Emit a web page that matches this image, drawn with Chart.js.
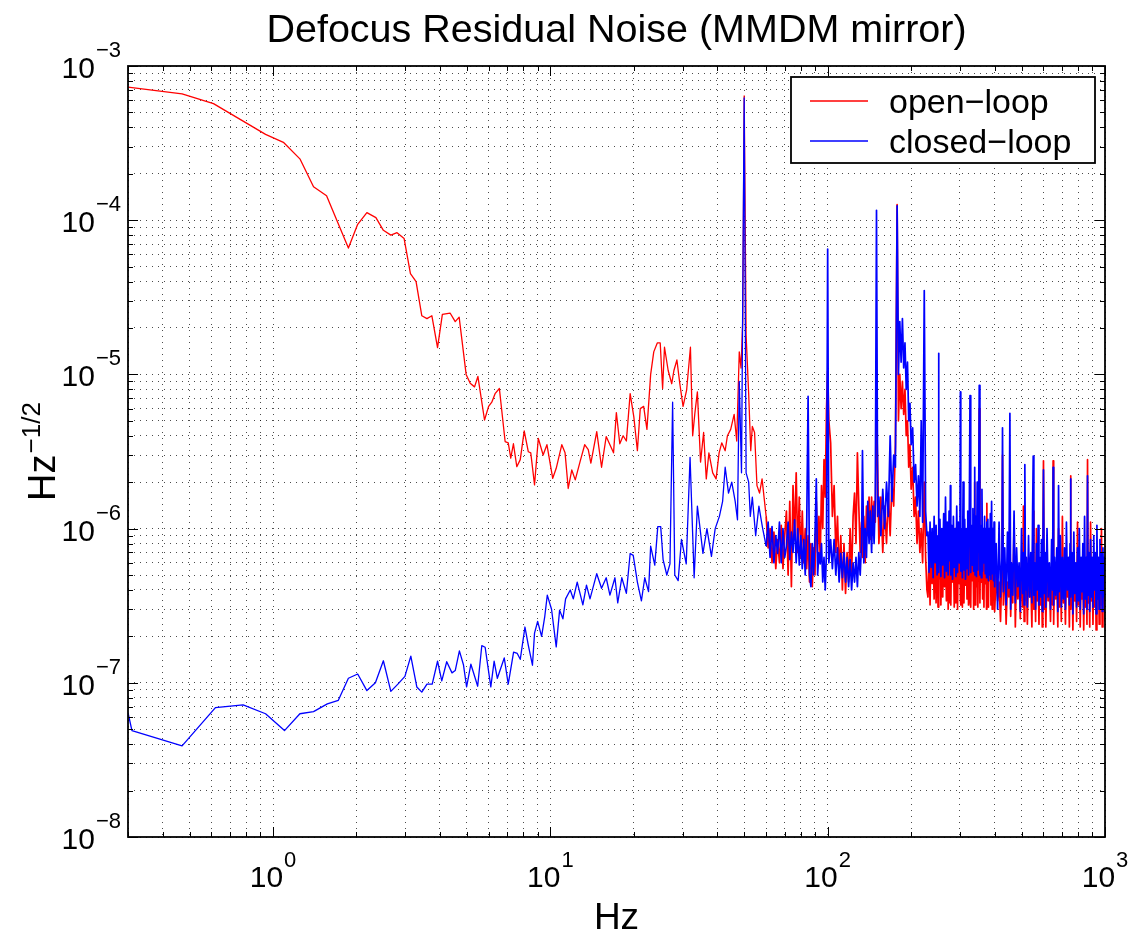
<!DOCTYPE html>
<html><head><meta charset="utf-8">
<script src="https://cdn.jsdelivr.net/npm/chart.js@4.4.1/dist/chart.umd.min.js"></script>
<style>html,body{margin:0;padding:0;background:#fff;}canvas{display:block;}</style>
</head><body>
<canvas id="c" width="1139" height="938"></canvas>
<script>
// ---------------- DATA ----------------
const titleText = 'Defocus Residual Noise (MMDM mirror)';
const xTitle = 'Hz';
const yTitleBase = 'Hz', yTitleExp = '\u22121/2';
const seriesNames = ['open\u2212loop', 'closed\u2212loop'];

const xTicks = [0.3,0.4,0.5,0.6,0.7,0.8,0.9,1,2,3,4,5,6,7,8,9,10,20,30,40,50,60,70,80,90,100,200,300,400,500,600,700,800,900,1000];
const xMajor = [1,10,100,1000];
const xMajorExp = ['0','1','2','3'];
const yTicks = [1e-8,2e-8,3e-8,4e-8,5e-8,6e-8,7e-8,8e-8,9e-8,1e-7,2e-7,3e-7,4e-7,5e-7,6e-7,7e-7,8e-7,9e-7,1e-6,2e-6,3e-6,4e-6,5e-6,6e-6,7e-6,8e-6,9e-6,1e-5,2e-5,3e-5,4e-5,5e-5,6e-5,7e-5,8e-5,9e-5,1e-4,2e-4,3e-4,4e-4,5e-4,6e-4,7e-4,8e-4,9e-4,1e-3];
const yMajor = [1e-8,1e-7,1e-6,1e-5,1e-4,1e-3];
const yMajorExp = ['\u22128','\u22127','\u22126','\u22125','\u22124','\u22123'];

// open-loop, 0.3 .. 58 Hz : [Hz, value]
const openLow = [
[0.3,7.3e-4],[0.47,6.6e-4],[0.61,5.7e-4],[0.94,3.6e-4],[1.09,3.2e-4],[1.25,2.5e-4],[1.40,1.65e-4],[1.56,1.44e-4],
[1.87,6.6e-5],[2.02,9.4e-5],[2.18,1.12e-4],[2.35,1.04e-4],[2.50,8.6e-5],[2.66,8.0e-5],[2.80,8.3e-5],[2.97,7.6e-5],
[3.13,4.5e-5],[3.28,4.0e-5],[3.44,2.4e-5],[3.59,2.3e-5],[3.74,2.4e-5],[3.92,1.49e-5],[4.08,2.45e-5],[4.35,2.5e-5],
[4.54,2.2e-5],[4.69,2.35e-5],[4.97,1.0e-5],[5.14,8.75e-6],[5.33,8.3e-6],[5.48,9.7e-6],[5.79,5.06e-6],[5.99,6.2e-6],
[6.15,6.6e-6],[6.32,7.5e-6],[6.55,8.1e-6],[6.87,3.67e-6],[7.05,3.6e-6],[7.2,2.86e-6],[7.36,3.55e-6],[7.57,2.52e-6],
[7.79,2.8e-6],[8.05,4.3e-6],[8.33,3.15e-6],[8.5,3.1e-6],[8.77,1.92e-6],[9.05,3.85e-6],[9.42,3.0e-6],[9.72,3.5e-6],
[10.2,2.12e-6],[10.5,2.46e-6],[11.0,3.5e-6],[11.3,3.1e-6],[11.6,1.82e-6],[11.95,2.4e-6],[12.3,2.07e-6],[12.8,2.72e-6],
[13.3,3.5e-6],[13.7,3.25e-6],[14.0,2.66e-6],[14.7,4.25e-6],[15.3,2.5e-6],[15.9,3.95e-6],[16.9,3.1e-6],[17.3,5.65e-6],
[17.8,3.55e-6],[18.3,4.0e-6],[18.8,3.7e-6],[19.4,7.5e-6],[20.0,5.3e-6],[20.6,3.2e-6],[21.1,6.0e-6],[21.7,6.2e-6],
[22.3,4.4e-6],[23.0,1.0e-5],[23.6,1.4e-5],[24.3,1.6e-5],[24.9,1.6e-5],[25.4,8.1e-6],[25.8,1.5e-5],[26.6,1.06e-5],
[27.4,8.7e-6],[27.9,1.06e-5],[28.6,1.24e-5],[29.3,8.7e-6],[30.1,6.2e-6],[31.0,7.9e-6],[32.0,1.5e-5],[32.6,4.0e-6],
[33.2,5.6e-6],[33.9,7.7e-6],[34.8,2.7e-6],[35.7,4.2e-6],[36.5,2.1e-6],[37.3,3.1e-6],[38.5,2.3e-6],[39.6,2.1e-6],
[40.6,3.1e-6],[41.5,3.6e-6],[42.7,3.2e-6],[43.5,4.0e-6],[44.7,4.4e-6],[46.0,5.5e-6],[47.0,3.7e-6],[48.0,1.4e-5],
[48.7,1.1e-5],[49.4,2.2e-5],[50.0,6.4e-4],[50.8,1.8e-5],[51.9,7.5e-6],[52.8,3.2e-6],[53.5,4.6e-6],[54.5,4.2e-6],
[55.6,1.9e-6],[56.8,1.7e-6],[58.0,2.1e-6]
];

// closed-loop, 0.3 .. 58 Hz : [Hz, value]
const closedLow = [
[0.3,6.4e-8],[0.31,4.9e-8],[0.47,3.9e-8],[0.62,6.9e-8],[0.78,7.2e-8],[0.94,6.3e-8],[1.10,4.9e-8],[1.25,6.3e-8],
[1.40,6.5e-8],[1.57,7.3e-8],[1.72,7.7e-8],[1.87,1.07e-7],[2.02,1.14e-7],[2.18,8.9e-8],[2.34,1.0e-7],[2.50,1.39e-7],
[2.66,8.8e-8],[2.82,9.8e-8],[2.99,1.1e-7],[3.14,1.49e-7],[3.30,9.4e-8],[3.44,8.7e-8],[3.59,9.8e-8],[3.75,9.8e-8],
[3.92,1.38e-7],[4.06,1.03e-7],[4.23,1.37e-7],[4.42,1.16e-7],[4.54,1.2e-7],[4.70,1.61e-7],[4.86,1.31e-7],[4.99,9.4e-8],
[5.17,1.32e-7],[5.36,1.07e-7],[5.47,9.5e-8],[5.66,1.74e-7],[5.82,1.7e-7],[6.10,9.4e-8],[6.27,1.38e-7],[6.44,1.07e-7],
[6.82,1.45e-7],[7.05,9.8e-8],[7.37,1.58e-7],[7.6,1.55e-7],[7.79,1.42e-7],[8.1,2.3e-7],[8.33,1.75e-7],[8.62,1.3e-7],
[8.77,2.1e-7],[9.0,2.5e-7],[9.30,2.0e-7],[9.55,2.7e-7],[9.75,3.7e-7],[10.1,3.0e-7],[10.5,1.71e-7],[10.8,2.96e-7],
[11.1,2.6e-7],[11.35,3.5e-7],[11.8,4.0e-7],[12.1,3.5e-7],[12.5,4.5e-7],[13.1,3.2e-7],[13.5,4.3e-7],[13.9,3.5e-7],
[14.7,5.1e-7],[15.3,4.1e-7],[15.9,4.8e-7],[16.4,3.7e-7],[17.1,4.8e-7],[17.5,3.3e-7],[18.1,4.8e-7],[18.8,3.8e-7],
[19.4,6.9e-7],[19.9,6.7e-7],[20.6,4.5e-7],[21.3,3.4e-7],[21.9,4.8e-7],[22.6,3.9e-7],[23.0,7.7e-7],[23.8,5.8e-7],
[24.4,1.03e-6],[25.0,1.03e-6],[25.5,6.3e-7],[26.3,5.0e-7],[27.0,5.9e-7],[27.6,6.6e-6],[28.1,5.0e-7],[28.9,4.6e-7],
[29.7,8.5e-7],[30.9,5.9e-7],[31.9,2.9e-6],[33.0,4.8e-7],[33.9,1.4e-6],[34.6,1.03e-6],[35.5,6.9e-7],[36.7,1.0e-6],
[38.1,6.6e-7],[39.3,1.0e-6],[40.7,1.2e-6],[41.8,1.5e-6],[42.7,2.5e-6],[43.9,1.7e-6],[45.1,2.0e-6],[46.4,1.5e-6],
[47.3,1.14e-6],[48.0,9.0e-6],[48.9,2.3e-6],[50.0,6.2e-4],[50.8,2.3e-6],[51.9,2.0e-6],[52.6,1.2e-6],[53.5,1.6e-6],
[55.0,9.0e-7],[56.5,1.4e-6],[58.3,1.0e-6]
];

// higher frequencies, shared bins : [Hz, open-loop, closed-loop]
const band60to100 = [
[60,1.2e-6,7.7e-7],[61,7.5e-7,1.1e-6],[62,1.0e-6,6.5e-7],[63,6.0e-7,1.03e-6],[64,9.5e-7,6.0e-7],[65,5.5e-7,9.0e-7],
[66,8.5e-7,6.9e-7],[67,6.0e-7,1.1e-6],[68,1.05e-6,6.0e-7],[69,5.5e-7,1.0e-6],[70,9.0e-7,6.5e-7],[71,1.3e-6,7.7e-7],
[72,5.0e-7,1.1e-6],[73,1.5e-6,6.3e-7],[74,4.2e-7,9.5e-7],[75,1.9e-6,7.0e-7],[76,8.5e-7,1.14e-6],[77,2.3e-6,6.0e-7],
[78,7.0e-7,1.0e-6],[79,1.6e-6,5.8e-7],[80,6.5e-7,9.0e-7],[81,1.3e-6,5.5e-7],[82,6.0e-7,8.5e-7],[83,1.0e-6,5.0e-7],
[84,5.5e-7,1.0e-6],[85,9.0e-7,7.2e-6],[86,4.5e-7,5.0e-7],[87,8.0e-7,4.2e-7],[88,4.2e-7,8.0e-7],[89,7.5e-7,5.0e-7],
[90,5.0e-7,9.0e-7],[91,1.5e-6,2.1e-6],[92,7.0e-7,5.0e-7],[93,1.2e-6,7.0e-7],[94,6.5e-7,5.9e-7],[95,1.9e-6,8.0e-7],
[96,1.0e-6,4.5e-7],[97,2.8e-6,6.5e-7],[98,1.6e-6,4.0e-7],[99,5.8e-6,7.0e-7]
];
const band100to150 = [
[100,1.05e-5,6.5e-5],[101,5.0e-6,6.0e-7],[102.5,3.6e-6,8.5e-7],[104,1.2e-6,5.5e-7],[105.5,1.9e-6,8.5e-7],
[107,7.0e-7,5.0e-7],[108.5,1.2e-6,7.5e-7],[110,5.0e-7,4.5e-7],[111.5,9.0e-7,6.9e-7],[113,4.0e-7,4.8e-7],
[114.5,8.0e-7,7.0e-7],[116,3.8e-7,4.5e-7],[117.5,7.0e-7,6.5e-7],[119,4.5e-7,4.2e-7],[120.5,1.0e-6,6.3e-7],
[122,5.0e-7,4.0e-7],[123.5,1.2e-6,6.0e-7],[125,1.7e-6,4.5e-7],[126.5,8.0e-7,6.5e-7],[128,3.1e-6,4.2e-7],
[129.5,1.4e-6,7.0e-7],[131,7.0e-7,5.0e-7],[132.5,1.1e-6,8.0e-7],[133.5,6.5e-7,3.2e-6],[135,1.2e-6,6.0e-7],
[136.5,6.0e-7,1.0e-6],[138,1.4e-6,6.5e-7],[139.5,9.0e-7,1.5e-6],[141,1.6e-6,8.0e-7],[142.5,8.5e-7,1.3e-6],
[144,1.6e-6,7.0e-7],[145.5,1.0e-6,1.4e-6],[147,1.5e-6,8.0e-7],[148.5,1.1e-6,1.5e-6]
];
const hump150to230 = [
[150,6.0e-6,1.16e-4],[151.5,2.4e-6,1.2e-6],[153,8.0e-7,1.6e-6],[155.5,1.6e-6,9.0e-7],[158,7.0e-7,1.8e-6],
[160.5,1.4e-6,1.0e-6],[163,8.0e-7,2.0e-6],[165.5,1.7e-6,1.2e-6],[168,9.0e-7,4.0e-6],[170.5,2.0e-6,1.5e-6],
[173,1.4e-6,3.0e-6],[175.5,3.5e-6,2.5e-6],[178,1.26e-4,1.24e-4],[180,5.0e-6,1.0e-5],[182,1.0e-5,2.2e-5],
[184,6.0e-6,1.2e-5],[186,9.0e-6,2.3e-5],[188,5.5e-6,1.1e-5],[190,8.0e-6,1.6e-5],[192,4.0e-6,8.0e-6],
[194,5.0e-6,1.2e-5],[196,2.5e-6,5.0e-6],[198,3.5e-6,6.5e-6],[200,1.8e-6,3.5e-6],[202.5,2.5e-6,4.5e-6],
[205,1.2e-6,2.0e-6],[207.5,1.6e-6,2.6e-6],[210,8.0e-7,1.4e-6],[212.5,1.3e-6,2.2e-6],[215,7.0e-7,1.2e-6],
[217.5,1.0e-6,5.0e-6],[220,6.0e-7,1.1e-6],[223,2.0e-6,3.5e-5],[225.5,6.5e-7,1.3e-6],[228,4.0e-7,9.0e-7]
];
const band230to400 = [
[230,3.6e-7,9.5e-7],[232,7.0e-7,5.2e-7],[234,3.2e-7,1.1e-6],[236,8.5e-7,5.6e-7],[238,4.4e-7,1.0e-6],
[240,7.5e-7,4.8e-7],[242,3.5e-7,1.2e-6],[244,9.0e-7,6.0e-7],[246,3.3e-7,1.05e-6],[248,8.0e-7,5.0e-7],
[250,3.1e-7,9.0e-7],[251,1.0e-6,1.37e-5],[252,4.6e-7,5.2e-7],[254,8.5e-7,1.15e-6],[256,3.2e-7,4.9e-7],
[258,7.5e-7,1.0e-6],[260,3.6e-7,5.8e-7],[262,9.5e-7,1.25e-6],[264,4.2e-7,4.8e-7],[266,8.0e-7,1.6e-6],
[268,3.4e-7,5.3e-7],[270,9.0e-7,1.1e-6],[272,3.0e-7,5.0e-7],[274,8.5e-7,1.3e-6],[276,3.3e-7,6.2e-7],
[277,6.0e-7,1.9e-6],[278,3.2e-7,5.0e-7],[280,9.0e-7,1.05e-6],[282,4.5e-7,4.7e-7],[284,7.5e-7,1.2e-6],
[286,3.1e-7,5.6e-7],[288,1.0e-6,1.0e-6],[290,3.3e-7,4.9e-7],[292,8.0e-7,1.4e-6],[294,3.0e-7,5.2e-7],
[296,8.5e-7,1.1e-6],[298,4.4e-7,6.0e-7],[300,9.0e-7,1.2e-6],[301,3.5e-7,7.7e-6],[302,3.2e-7,5.3e-7],
[304,9.5e-7,1.0e-6],[306,3.1e-7,4.8e-7],[308,8.0e-7,2.0e-6],[310,3.3e-7,5.4e-7],[312,7.5e-7,1.15e-6],
[314,4.3e-7,4.7e-7],[316,9.0e-7,1.0e-6],[318,3.5e-7,5.5e-7],[320,1.0e-6,1.3e-6],[322,3.2e-7,5.0e-7],
[324,8.0e-7,1.1e-6],[326,3.4e-7,7.3e-6],[328,3.1e-7,5.2e-7],[330,9.0e-7,1.05e-6],[332,4.6e-7,5.8e-7],
[334,8.5e-7,1.35e-6],[336,3.0e-7,5.3e-7],[338,7.5e-7,1.1e-6],[339,2.0e-6,2.5e-6],[340,3.2e-7,5.0e-7],
[342,9.0e-7,1.2e-6],[344,4.2e-7,4.9e-7],[346,8.0e-7,2.0e-6],[348,3.1e-7,5.4e-7],[350,8.5e-7,1.1e-6],
[352,6.0e-6,8.5e-6],[354,3.3e-7,5.0e-7],[356,9.0e-7,1.05e-6],[358,4.5e-7,4.8e-7],[360,8.0e-7,1.8e-6],
[362,3.5e-7,5.3e-7],[364,9.5e-7,1.0e-6],[366,3.1e-7,6.0e-7],[368,8.5e-7,1.2e-6],[370,4.4e-7,5.1e-7],
[372,7.5e-7,1.0e-6],[374,3.0e-7,4.8e-7],[375,1.46e-6,1.1e-6],[376,3.3e-7,5.2e-7],[378,9.0e-7,1.15e-6],
[380,3.1e-7,4.6e-7],[382,8.0e-7,1.0e-6],[384,4.6e-7,5.0e-7],[386,8.5e-7,1.25e-6],[388,3.2e-7,4.7e-7],
[390,9.0e-7,1.5e-6],[392,3.0e-7,5.1e-7],[394,7.5e-7,1.0e-6],[396,4.3e-7,4.6e-7],[398,8.0e-7,1.1e-6]
];
const band400to600 = [
[400,2.9e-7,4.2e-7],[405,5.0e-7,8.0e-7],[410,3.4e-7,3.0e-7],[415,4.5e-7,1.1e-6],[420,2.5e-7,3.6e-7],
[425,5.5e-7,6.5e-7],[427,3.0e-6,4.5e-6],[430,3.2e-7,3.9e-7],[435,6.0e-7,7.5e-7],[440,2.4e-7,3.2e-7],
[445,4.5e-7,9.5e-7],[450,3.6e-7,4.1e-7],[454,1.2e-6,5.6e-6],[457,2.7e-7,3.0e-7],[460,5.0e-7,6.0e-7],
[465,3.3e-7,3.7e-7],[470,1.1e-6,1.3e-6],[475,2.3e-7,3.3e-7],[480,5.5e-7,7.5e-7],[485,3.5e-7,4.2e-7],
[490,5.0e-7,6.0e-7],[495,2.6e-7,2.9e-7],[500,6.0e-7,1.0e-6],[505,3.1e-7,3.8e-7],[508,1.4e-6,7.0e-7],
[511,2.5e-7,3.2e-7],[514,5.5e-7,2.6e-6],[517,3.4e-7,4.0e-7],[520,5.0e-7,6.5e-7],[525,2.4e-7,3.1e-7],
[530,6.5e-7,9.0e-7],[535,3.6e-7,3.6e-7],[540,4.5e-7,7.0e-7],[545,2.3e-7,3.3e-7],[548,6.0e-7,1.2e-6],
[551,1.3e-6,2.95e-6],[554,3.0e-7,3.7e-7],[558,5.5e-7,6.0e-7],[562,2.5e-7,3.0e-7],[566,1.0e-6,8.0e-7],
[570,3.4e-7,4.0e-7],[574,5.0e-7,1.05e-6],[578,2.4e-7,3.2e-7],[582,6.0e-7,6.5e-7],[586,3.2e-7,3.6e-7],
[590,5.5e-7,8.5e-7],[594,2.3e-7,2.9e-7],[597,5.0e-7,7.0e-7],[600,2.75e-6,2.4e-6]
];
const band600to1000 = [
[604,3.0e-7,3.8e-7],[608,5.0e-7,7.0e-7],[612,2.3e-7,3.1e-7],[618,6.0e-7,1.0e-6],[624,3.4e-7,3.6e-7],
[630,5.0e-7,6.0e-7],[636,2.5e-7,3.0e-7],[642,5.5e-7,8.5e-7],[647,3.2e-7,4.0e-7],[650,2.75e-6,2.5e-6],
[653,2.4e-7,3.2e-7],[658,6.0e-7,6.5e-7],[664,3.5e-7,3.7e-7],[670,5.0e-7,7.5e-7],[676,2.3e-7,2.9e-7],
[680,1.0e-6,1.9e-6],[684,3.1e-7,3.9e-7],[690,5.5e-7,9.0e-7],[696,2.5e-7,3.1e-7],[702,1.2e-6,6.5e-7],
[708,3.3e-7,3.5e-7],[714,5.0e-7,7.5e-7],[720,2.4e-7,3.0e-7],[726,6.0e-7,1.1e-6],[732,3.6e-7,4.0e-7],
[738,5.5e-7,6.5e-7],[744,2.3e-7,3.2e-7],[748,5.0e-7,8.0e-7],[751,2.2e-6,2.1e-6],[754,3.0e-7,3.6e-7],
[760,6.0e-7,7.0e-7],[766,2.2e-7,2.8e-7],[772,5.5e-7,9.5e-7],[778,3.4e-7,3.8e-7],[784,5.0e-7,6.0e-7],
[790,2.5e-7,3.1e-7],[796,1.1e-6,7.5e-7],[802,3.2e-7,3.4e-7],[808,6.0e-7,1.0e-6],[814,2.3e-7,3.0e-7],
[820,5.0e-7,6.5e-7],[826,3.5e-7,3.9e-7],[832,5.5e-7,8.0e-7],[838,2.2e-7,2.8e-7],[844,6.0e-7,1.2e-6],
[850,3.1e-7,3.5e-7],[856,5.0e-7,6.5e-7],[861,2.4e-7,3.0e-7],[865,2.8e-6,2.2e-6],[869,3.3e-7,3.7e-7],
[875,5.5e-7,7.0e-7],[881,2.3e-7,2.9e-7],[887,1.1e-6,8.5e-7],[893,3.4e-7,3.6e-7],[899,5.0e-7,6.5e-7],
[905,2.4e-7,3.1e-7],[911,6.0e-7,9.0e-7],[917,3.1e-7,4.0e-7],[923,5.5e-7,7.0e-7],[929,2.2e-7,2.8e-7],
[935,5.0e-7,1.05e-6],[941,3.5e-7,3.5e-7],[947,6.0e-7,6.5e-7],[953,2.4e-7,3.0e-7],[959,5.5e-7,8.5e-7],
[965,3.2e-7,3.8e-7],[971,1.0e-6,7.0e-7],[977,2.3e-7,2.9e-7],[983,5.0e-7,7.5e-7],[989,3.3e-7,3.6e-7],
[995,5.5e-7,6.5e-7],[1000,2.5e-7,5.0e-7]
];

// ---------------- BUILD ----------------
const highRows = band60to100.concat(band100to150, hump150to230, band230to400, band400to600, band600to1000);
const openData = openLow.map(r => ({x: r[0], y: r[1]})).concat(highRows.map(r => ({x: r[0], y: r[1]})));
const closedData = closedLow.map(r => ({x: r[0], y: r[1]})).concat(highRows.map(r => ({x: r[0], y: r[2]})));

const FONT = '"Liberation Sans", Arial, Helvetica, sans-serif';
const seriesColors = ['#ff0000', '#0000ff'];

function drawPow(ctx, base, exp, x, y, align, fb, fe, raise) {
  ctx.font = fb + 'px ' + FONT; const wb = ctx.measureText(base).width;
  ctx.font = fe + 'px ' + FONT; const we = ctx.measureText(exp).width;
  const gap = 1;
  const total = wb + gap + we;
  const x0 = align === 'right' ? x - total : x - total / 2;
  ctx.textAlign = 'left'; ctx.textBaseline = 'alphabetic';
  ctx.font = fb + 'px ' + FONT; ctx.fillText(base, x0, y);
  ctx.font = fe + 'px ' + FONT; ctx.fillText(exp, x0 + wb + gap, y - raise);
}

const decor = {
  id: 'decor',
  afterDatasetsDraw(chart) {
    const {ctx, chartArea: a, scales: {x, y}} = chart;
    ctx.save();
    ctx.strokeStyle = '#000'; ctx.lineWidth = 1;
    ctx.beginPath();
    xTicks.forEach(v => {
      const px = Math.round(x.getPixelForValue(v)) + 0.5;
      const len = xMajor.includes(v) ? 10 : 5;
      ctx.moveTo(px, a.bottom); ctx.lineTo(px, a.bottom - len);
      ctx.moveTo(px, a.top); ctx.lineTo(px, a.top + len);
    });
    yTicks.forEach(v => {
      const py = Math.round(y.getPixelForValue(v)) + 0.5;
      const len = yMajor.includes(v) ? 10 : 5;
      ctx.moveTo(a.left, py); ctx.lineTo(a.left + len, py);
      ctx.moveTo(a.right, py); ctx.lineTo(a.right - len, py);
    });
    ctx.stroke();
    ctx.lineWidth = 1.8;
    ctx.strokeRect(a.left, a.top, a.right - a.left, a.bottom - a.top);
    ctx.restore();
  },
  afterDraw(chart) {
    const {ctx, chartArea: a, scales: {x, y}} = chart;
    ctx.save();
    ctx.fillStyle = '#000';
    xMajor.forEach((v, i) => {
      drawPow(ctx, '10', xMajorExp[i], x.getPixelForValue(v), a.bottom + 50, 'center', 30, 22, 20);
    });
    yMajor.forEach((v, i) => {
      drawPow(ctx, '10', yMajorExp[i], a.left - 7, y.getPixelForValue(v) + 12, 'right', 30, 22, 21);
    });
    ctx.font = '39.5px ' + FONT; ctx.textAlign = 'center'; ctx.textBaseline = 'alphabetic';
    ctx.fillText(titleText, (a.left + a.right) / 2, 42);
    ctx.font = '37px ' + FONT;
    ctx.fillText(xTitle, (a.left + a.right) / 2, 929);
    ctx.save();
    ctx.translate(55, (a.top + a.bottom) / 2);
    ctx.rotate(-Math.PI / 2);
    drawPow(ctx, yTitleBase, yTitleExp, 0, 0, 'center', 38, 26, 15);
    ctx.restore();
    // legend
    const lx = 791, ly = 77, lw = 304, lh = 86;
    ctx.fillStyle = '#fff'; ctx.fillRect(lx, ly, lw, lh);
    ctx.strokeStyle = '#000'; ctx.lineWidth = 1.8; ctx.strokeRect(lx, ly, lw, lh);
    [101, 141].forEach((ry, i) => {
      ctx.strokeStyle = seriesColors[i]; ctx.lineWidth = 1.5;
      ctx.beginPath(); ctx.moveTo(810, ry); ctx.lineTo(868, ry); ctx.stroke();
      ctx.fillStyle = '#000'; ctx.font = '34px ' + FONT; ctx.textAlign = 'left';
      ctx.fillText(seriesNames[i], 889, ry + 12);
    });
    ctx.restore();
  }
};

const gridCommon = {color: 'rgba(0,0,0,0.7)', lineWidth: 1, drawTicks: false};
const segWidth = {borderWidth: c => (c.p0.parsed.x >= 59 ? 1.7 : 1.3)};

new Chart(document.getElementById('c'), {
  type: 'line',
  data: {
    datasets: [
      {label: seriesNames[0], data: openData, borderColor: seriesColors[0], borderWidth: 1.3, pointRadius: 0, tension: 0, borderJoinStyle: 'round', segment: segWidth, order: 1},
      {label: seriesNames[1], data: closedData, borderColor: seriesColors[1], borderWidth: 1.3, pointRadius: 0, tension: 0, borderJoinStyle: 'round', segment: segWidth, order: 0}
    ]
  },
  options: {
    responsive: false, animation: false, devicePixelRatio: 1,
    layout: {padding: {left: 128, right: 34, top: 66, bottom: 101}},
    plugins: {legend: {display: false}, title: {display: false}, tooltip: {enabled: false}},
    scales: {
      x: {
        type: 'logarithmic', min: 0.3, max: 1000,
        afterBuildTicks: s => { s.ticks = xTicks.map(v => ({value: v})); },
        afterFit: s => { s.height = 0; },
        ticks: {display: false}, grid: gridCommon,
        border: {display: false, dash: [1, 5]}
      },
      y: {
        type: 'logarithmic', min: 1e-8, max: 1e-3,
        afterBuildTicks: s => { s.ticks = yTicks.map(v => ({value: v})); },
        afterFit: s => { s.width = 0; },
        ticks: {display: false}, grid: gridCommon,
        border: {display: false, dash: [1, 5]}
      }
    }
  },
  plugins: [decor]
});
</script>
</body></html>
